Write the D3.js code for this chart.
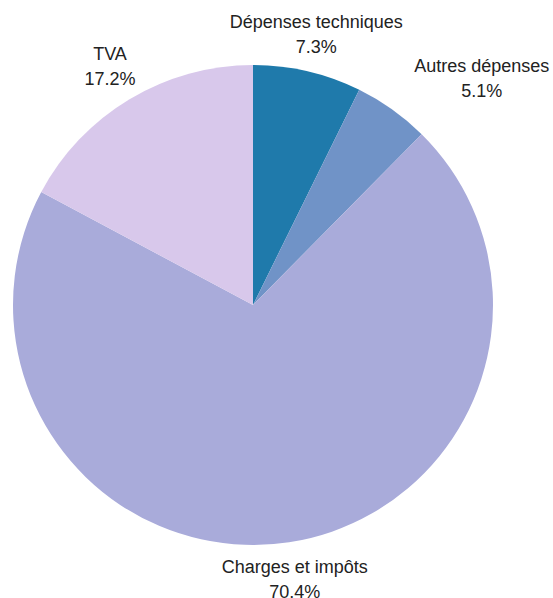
<!DOCTYPE html>
<html>
<head>
<meta charset="utf-8">
<script src="https://cdn.jsdelivr.net/npm/d3@7"></script>
<style>
  body { margin: 0; background: #fff; }
  text { font-family: "Liberation Sans", Arial, sans-serif; font-size: 18px; fill: #222; }
</style>
</head>
<body>
<div id="chart"></div>
<script>
const categories = ["Dépenses techniques", "Autres dépenses", "Charges et impôts", "TVA"];
const values = [7.3, 5.1, 70.4, 17.2];
const colors = ["#1f7aab", "#7093c7", "#a9abda", "#d8c8eb"];

const width = 553, height = 598;
const cx = 253, cy = 305, radius = 240, labelRadius = 278;

const svg = d3.select("#chart").append("svg")
  .attr("width", width)
  .attr("height", height);

const data = categories.map((c, i) => ({ name: c, value: values[i], color: colors[i] }));

const pie = d3.pie().sort(null).value(d => d.value);
const arc = d3.arc().innerRadius(0).outerRadius(radius);
const arcs = pie(data);

const g = svg.append("g").attr("transform", "translate(" + cx + "," + cy + ")");

g.selectAll("path")
  .data(arcs)
  .enter()
  .append("path")
  .attr("d", arc)
  .attr("fill", d => d.data.color);

// labels: two lines, name + percent
const labels = g.selectAll("g.label")
  .data(arcs)
  .enter()
  .append("g")
  .attr("class", "label");

labels.each(function(d) {
  const mid = (d.startAngle + d.endAngle) / 2;
  const s = Math.sin(mid), c = Math.cos(mid);
  const x = labelRadius * s, y = -labelRadius * c;
  const el = d3.select(this);
  const t1 = el.append("text").attr("text-anchor", "middle")
    .attr("dominant-baseline", "central").attr("y", y - 12.5).text(d.data.name);
  const t2 = el.append("text").attr("text-anchor", "middle")
    .attr("dominant-baseline", "central").attr("y", y + 12.5).text(d.data.value.toFixed(1) + "%");
  const w = Math.max(t1.node().getComputedTextLength(), t2.node().getComputedTextLength());
  let bx = x;
  if (s > 0.55) bx = x + w / 2;
  else if (s < -0.55) bx = x - w / 2;
  t1.attr("x", bx);
  t2.attr("x", bx);
});
</script>
</body>
</html>
